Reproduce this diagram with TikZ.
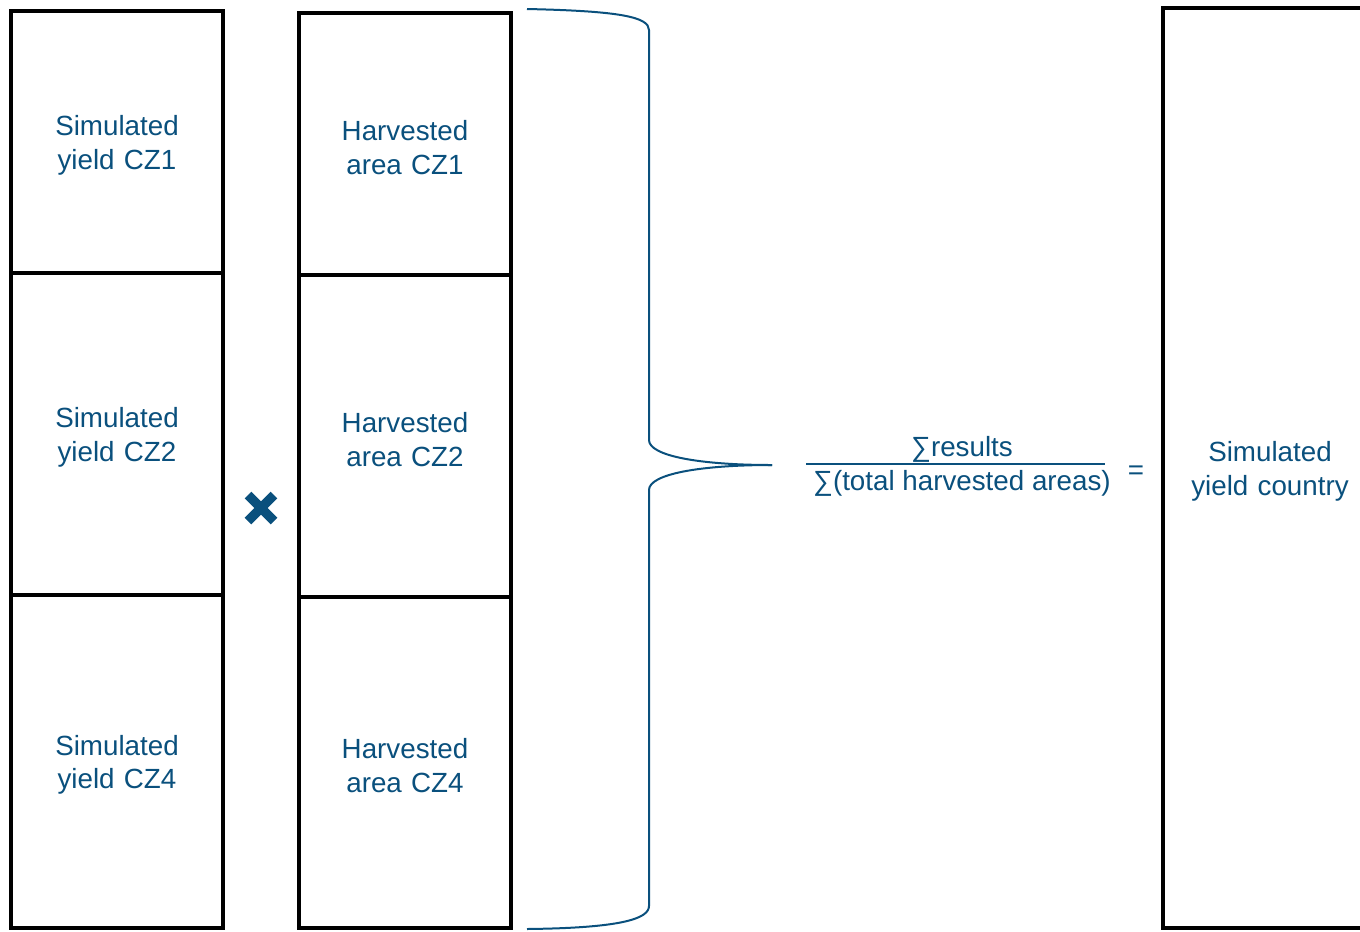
\documentclass[tikz,border=0pt]{standalone}
\usepackage{fontspec}
\setmainfont{Liberation Sans}
\usetikzlibrary{positioning}
\definecolor{textblue}{RGB}{10,80,125}

\tikzset{
  cell/.style={rectangle,draw=black,line width=0.08cm,inner sep=0pt,outer sep=0pt,
    minimum width=4.24cm,text width=4cm,align=center,text=textblue,
    font=\fontsize{15.8}{19.3}\selectfont,
    execute at begin node={\rule{0pt}{15.2pt}}},
  formula/.style={inner sep=0pt,text=textblue,font=\fontsize{15.8}{19.3}\selectfont},
  brace/.style={draw=textblue,line width=0.04cm},
  cross/.style={draw=textblue,line width=0.19cm}
}

\begin{document}
\begin{tikzpicture}[x=0.02cm,y=-0.02cm]
  \useasboundingbox (0,0) rectangle (1360,931);
  \clip (0,0) rectangle (1360,931);

  % simulated yields
  \node[cell,minimum height=5.24cm] (y1) at (117,142) {Simulated\\yield CZ1};
  \node[cell,minimum height=6.44cm] (y2) at (117,434) {Simulated\\yield CZ2};
  \node[cell,minimum height=6.66cm] (y4) at (117,761.5) {Simulated\\yield CZ4};

  % harvested areas
  \node[cell,minimum height=5.24cm] (a1) at (405,144) {Harvested\\area CZ1};
  \node[cell,minimum height=6.44cm] (a2) at (405,436) {Harvested\\area CZ2};
  \node[cell,minimum height=6.62cm] (a4) at (405,762.5) {Harvested\\area CZ4};

  % times sign
  \draw[cross] (248,495) -- (274,521) (274,495) -- (248,521);

  % brace
  \coordinate (tip) at (772,465);
  \draw[brace] (527,9) .. controls (620,11) and (649,17) .. (649,30) -- (649,440)
    .. controls (649,456) and (700,465) .. (tip);
  \draw[brace] (tip) .. controls (700,465) and (649,474) .. (649,490) -- (649,906)
    .. controls (649,919) and (620,928) .. (527,929);

  % fraction
  \node[formula] (num) at (962,449) {∑results};
  \node[formula] (den) at (962,483) {∑(total harvested areas)};
  \coordinate (barl) at (806,464);
  \coordinate (barr) at (1105,464);
  \draw[textblue,line width=0.04cm] (barl) -- (barr);
  \node[formula] (eq) at (1136,473) {=};

  % result
  \node[cell,minimum width=4.28cm,minimum height=18.4cm] (yc) at (1270,468) {Simulated\\yield country};
\end{tikzpicture}
\end{document}
